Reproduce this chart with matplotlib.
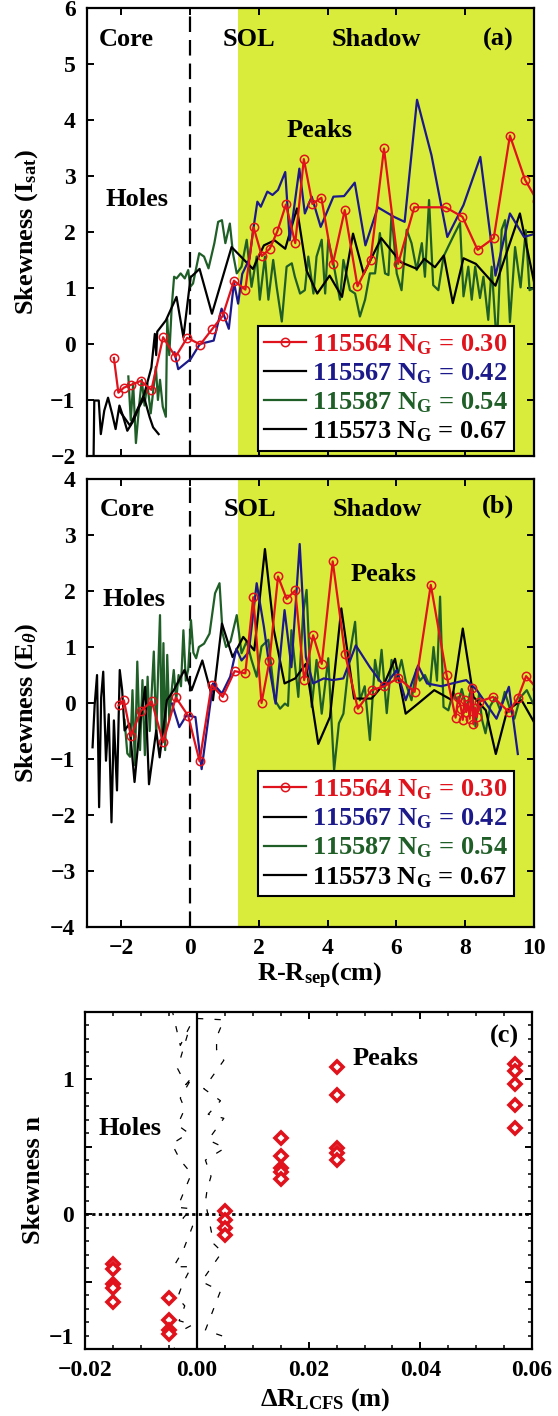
import matplotlib
matplotlib.use("Agg")
import matplotlib.pyplot as plt
from matplotlib.lines import Line2D
from matplotlib.ticker import FixedLocator, MultipleLocator, FuncFormatter

plt.rcParams["font.family"] = ["Liberation Serif", "DejaVu Serif"]
plt.rcParams["font.weight"] = "bold"
plt.rcParams["axes.labelweight"] = "bold"
plt.rcParams["mathtext.fontset"] = "custom"
plt.rcParams["mathtext.rm"] = "Liberation Serif:bold"
plt.rcParams["mathtext.it"] = "Liberation Serif:bold:italic"
plt.rcParams["mathtext.bf"] = "Liberation Serif:bold"

RED = "#e0121c"
NAVY = "#1c1a8a"
GREEN = "#1f5f27"
YELLOW = "#d9ec3c"

# ---- panel (a): skewness of I_sat ----
red_a_x = [-2.21, -2.08, -1.92, -1.71, -1.43, -1.12, -0.78, -0.42, -0.08, 0.30, 0.64, 0.95,
           1.28, 1.61, 1.85, 2.09, 2.32, 2.54, 2.79, 3.06, 3.31, 3.56, 3.82, 4.15, 4.50, 4.87,
           5.25, 5.64, 6.05, 6.52, 7.43, 7.92, 8.36, 8.83, 9.30, 9.74, 10.1]
red_a_y = [-0.25, -0.87, -0.78, -0.73, -0.66, -0.82, 0.12, -0.23, 0.11, -0.01, 0.26, 0.50,
           1.13, 0.97, 2.08, 1.57, 1.70, 2.01, 2.49, 1.80, 3.30, 2.50, 2.61, 1.42, 2.39, 1.03,
           1.50, 3.49, 1.43, 2.44, 2.44, 2.27, 1.68, 1.89, 3.72, 2.93, 2.55]

blue_a_x = [-0.45, -0.34, 0.02, 0.29, 0.69, 0.92, 1.13, 1.28, 1.40, 1.52, 1.73, 1.83, 1.96,
            2.06, 2.25, 2.40, 2.56, 2.77, 2.90, 3.18, 3.34, 3.54, 3.80, 4.17, 4.48, 4.79, 5.10,
            5.46, 5.93, 6.24, 6.60, 7.02, 7.48, 7.95, 8.44, 8.88, 9.30, 9.71, 10.04]
blue_a_y = [-0.15, -0.45, -0.27, 0.00, 0.06, 0.63, 0.27, 1.10, 0.72, 1.25, 1.52, 2.00, 2.54,
            2.45, 2.72, 2.66, 2.75, 3.07, 1.85, 3.13, 2.33, 2.63, 2.09, 2.63, 2.64, 2.88, 1.76,
            2.44, 2.27, 2.18, 4.36, 3.37, 1.91, 2.48, 3.34, 1.22, 2.33, 1.91, 1.97]

green_a_x = [-1.79, -1.72, -1.65, -1.57, -1.47, -1.40, -1.32, -1.24, -1.14, -1.06, -0.99, -0.93,
             -0.87, -0.79, -0.70, -0.66, -0.60, -0.53, -0.46, -0.39, -0.27, -0.15, -0.05, 0.01,
             0.09, 0.27, 0.41, 0.54, 0.71, 0.82, 0.93, 1.03, 1.16, 1.25, 1.36, 1.50, 1.65, 1.79,
             1.94, 2.03, 2.18, 2.28, 2.42, 2.52, 2.67, 2.81, 2.96, 3.05, 3.20, 3.34, 3.44, 3.59,
             3.68, 3.83, 3.93, 4.02, 4.17, 4.36, 4.46, 4.65, 4.80, 4.94, 5.09, 5.23, 5.38, 5.52,
             5.67, 5.77, 5.86, 6.01, 6.15, 6.30, 6.44, 6.59, 6.74, 6.83, 6.95, 7.07, 7.22, 7.37,
             7.51, 7.70, 7.85, 7.95, 8.09, 8.19, 8.29, 8.43, 8.53, 8.67, 8.77, 8.92, 9.06, 9.16,
             9.30, 9.45, 9.61, 9.76, 9.87, 10.04]
green_a_y = [-0.58, -1.36, -0.70, -1.77, -1.06, -0.64, -1.10, -0.70, -1.24, -0.80, -0.41, -1.00,
             -0.64, -1.12, -1.30, 0.45, -0.20, 0.66, 1.20, 1.17, 1.26, 1.17, 1.32, 1.02,
             1.08, 1.62, 1.56, 1.35, 1.80, 2.18, 2.21, 1.80, 2.15, 1.62, 1.26, 1.38, 1.86, 1.02,
             1.56, 0.79, 1.56, 0.79, 1.50, 1.02, 0.40, 1.38, 1.44, 1.20, 0.90, 0.96, 1.56, 0.90,
             1.56, 1.86, 0.90, 1.86, 1.44, 0.79, 1.50, 0.96, 0.90, 0.49, 0.79, 1.26, 1.26, 1.98,
             1.26, 1.23, 2.33, 1.26, 0.96, 2.04, 1.80, 1.32, 1.80, 1.20, 2.57, 1.05, 0.96, 1.56,
             1.74, 1.98, 2.16, 0.85, 1.38, 0.79, 1.38, 0.82, 1.20, 0.43, 1.38, -0.05, 2.04, 2.21,
             0.39, 1.73, 1.01, 2.03, 0.96, 1.01]

black_core_a_x = [-2.80, -2.78, -2.65, -2.59, -2.49, -2.38, -2.26, -2.16, -2.05, -1.95, -1.82,
                  -1.64, -1.48, -1.33, -1.17, -1.07, -0.91]
black_core_a_y = [-2.00, -1.01, -1.01, -1.61, -1.19, -0.96, -1.25, -1.52, -1.10, -1.28, -1.55,
                  -1.37, -1.13, -0.96, -1.31, -1.49, -1.61]
black_a_x = [-2.05, -1.74, -1.33, -1.12, -1.02, -0.98, -0.95, -0.70, -0.39, -0.19, 0.02, 0.28,
             0.64, 1.21, 1.83, 2.15, 2.46, 2.77, 3.11, 3.39, 3.70, 4.06, 4.42, 4.74, 5.05, 5.56,
             6.13, 6.60, 6.81, 7.12, 7.38, 7.64, 7.95, 8.31, 8.88, 9.59, 10.04]
black_a_y = [-1.19, -1.46, -0.90, -0.42, 0.18, -0.20, 0.22, 0.42, 0.84, 0.12, 1.19, 1.34,
             0.54, 1.73, 1.34, 1.76, 1.85, 1.70, 2.42, 1.31, 0.90, 1.22, 0.84, 1.97, 1.25, 1.89,
             1.46, 1.34, 1.52, 1.37, 1.58, 0.73, 1.53, 1.43, 1.04, 2.33, 0.99]

# ---- panel (b): skewness of E_theta ----
red_b_x = [-2.07, -1.92, -1.71, -1.43, -1.11, -0.78, -0.41, -0.05, 0.28, 0.63, 0.95, 1.30,
           1.61, 1.84, 2.08, 2.31, 2.56, 2.81, 3.06, 3.32, 3.58, 3.83, 4.15, 4.51, 4.88, 5.28,
           5.65, 6.06, 6.53, 7.00, 7.46, 7.72, 7.80, 7.88, 7.93, 7.98, 8.03, 8.08, 8.13, 8.19,
           8.24, 8.29, 8.34, 8.39, 8.81, 9.27, 9.53, 9.77, 10.1]
red_b_y = [-0.04, 0.05, -0.59, -0.14, 0.03, -0.70, 0.10, -0.23, -1.04, 0.32, 0.11, 0.57,
           0.53, 1.89, 0.00, 0.75, 2.26, 1.86, 2.01, 0.41, 1.21, 0.70, 2.53, 0.87, -0.10, 0.23,
           0.30, 0.45, 0.20, 2.11, 0.50, -0.26, 0.11, -0.10, -0.30, 0.05, -0.16, -0.01, -0.28,
           0.26, -0.38, -0.08, -0.25, 0.02, 0.11, -0.16, 0.09, 0.48, 0.25]

blue_b_x = [-0.52, -0.31, -0.10, 0.16, 0.34, 0.67, 0.93, 1.17, 1.35, 1.50, 1.71, 1.94, 2.15,
            2.33, 2.49, 2.75, 2.95, 3.19, 3.37, 3.58, 3.89, 4.15, 4.46, 4.82, 5.23, 5.65, 6.01,
            6.27, 6.63, 6.89, 7.31, 7.62, 8.03, 8.34, 8.91, 9.27, 9.53]
blue_b_y = [-0.01, -0.43, -0.22, -0.25, -1.18, 0.35, 0.17, 0.47, 0.97, 0.76, 0.91, 2.14, 1.36,
            0.56, -0.01, 1.66, 0.64, 2.84, 0.82, 0.35, 0.44, 0.41, 0.44, 1.03, 0.64, 0.29, 0.59,
            0.05, 0.67, 0.35, 0.30, 0.35, 0.41, 0.23, -0.28, 0.29, -0.91]

green_b_x = [-1.90, -1.82, -1.74, -1.67, -1.60, -1.53, -1.45, -1.38, -1.31, -1.23, -1.17, -1.11,
             -1.05, -0.98, -0.92, -0.87, -0.82, -0.77, -0.72, -0.66, -0.60, -0.54, -0.47, -0.40,
             -0.33, -0.26, -0.19, -0.12, -0.05, 0.03, 0.10, 0.18, 0.26, 0.41, 0.57, 0.73, 0.86,
             0.95, 1.05, 1.18, 1.36, 1.50, 1.65, 1.79, 1.94, 2.08, 2.28, 2.47, 2.62, 2.76, 2.85,
             2.95, 3.15, 3.29, 3.39, 3.54, 3.68, 3.83, 4.02, 4.19, 4.33, 4.46, 4.65, 4.80, 4.94,
             5.08, 5.23, 5.38, 5.48, 5.57, 5.72, 5.86, 6.00, 6.15, 6.30, 6.44, 6.58, 6.68, 6.83,
             6.98, 7.08, 7.18, 7.27, 7.37, 7.51, 7.65, 7.80, 7.90, 8.05, 8.18, 8.30, 8.40, 8.49,
             8.59, 8.73, 8.88, 9.02, 9.15, 9.30, 9.43, 9.60, 9.79, 10.0]
green_b_y = [-0.30, -0.90, -0.96, 0.23, -1.11, 0.74, -0.84, 0.41, -0.93, 0.47, -0.50, 0.20,
             0.92, -0.60, 0.65, 1.57, -0.66, 1.07, -0.84, 0.86, -0.30, 0.17, 0.59, 0.05,
             0.50, 0.30, 1.30, 0.40, 0.60, 1.48, 0.90, 0.80, 1.00, 1.06, 1.24, 1.96, 2.14,
             1.24, 1.00, 1.10, 1.57, 0.89, 1.10, 0.77, 0.47, 1.01, 1.13, 0.05, -0.10, -0.01, -0.05,
             1.30, 0.11, 1.60, 2.02, -0.07, 0.77, -0.19, 0.80, -1.20, -0.36, -0.19, 0.89, 1.45, 0.05,
             0.30, -0.66, 0.77, 0.40, 0.95, -0.18, 0.77, 0.40, 0.77, 0.30, 0.05, 0.60, 0.40, 0.50,
             0.30, 1.00, 0.40, 1.90, -0.07, -0.13, 0.20, 0.00, 0.25, -0.10, 0.30, -0.42, 0.15, -0.30,
             -0.54, -0.05, 0.10, -0.13, 0.20, -0.10, -0.28, 0.10, 0.23, -0.04]

black_b_x = [-2.83, -2.77, -2.70, -2.64, -2.58, -2.52, -2.44, -2.36, -2.28, -2.21, -2.12, -2.04,
             -1.97, -1.90, -1.76, -1.61, -1.45, -1.30, -1.19, -0.98, -0.88, -0.67, -0.47, -0.16,
             0.05, 0.36, 0.67, 0.93, 1.24, 1.55, 1.87, 2.18, 2.44, 2.75, 3.06, 3.37, 3.73, 4.07,
             4.40, 4.77, 5.28, 5.65, 5.96, 6.27, 6.63, 7.10, 7.62, 7.93, 8.24, 8.60, 8.89, 9.22,
             9.64, 10.0]
black_b_y = [-0.79, -0.04, 0.50, -1.86, 0.10, 0.56, -1.03, -0.20, -2.13, -0.31, -1.56, 0.59,
             0.23, -0.49, -0.37, -1.41, -0.37, 0.29, -1.45, -0.49, -0.97, 0.05, 0.23, 0.59,
             0.23, 0.76, 0.05, 1.42, 0.82, 1.18, 0.94, 2.75, 1.30, 0.35, 0.44, 0.70, -0.73, -0.25,
             1.69, 0.08, 0.08, 0.35, 0.79, -0.19, -0.01, 0.23, 0.05, 1.33, 0.11, -0.13, -0.91, -0.13,
             0.05, -0.34]

# ---- panel (c): skewness n vs Delta R_LCFS ----
c_x = [-0.015] * 5 + [-0.005] * 4 + [0.005] * 4 + [0.015] * 5 + [0.025] * 5 + [0.057] * 5
c_y = [-0.37, -0.41, -0.52, -0.55, -0.65,
       -0.625, -0.785, -0.86, -0.885,
       0.02, -0.045, -0.105, -0.155,
       0.565, 0.43, 0.34, 0.31, 0.26,
       1.09, 0.88, 0.49, 0.45, 0.40,
       1.11, 1.06, 0.965, 0.81, 0.64]
band_lo_x = [-0.0045, -0.0030, -0.0012, -0.0035, -0.0020, -0.0008, -0.0030, -0.0022, -0.0035,
             -0.0015, -0.0045, -0.0030, -0.0010, -0.0022, -0.0035, -0.0010, -0.0025, -0.0008,
             -0.0025, -0.0042, -0.0010, -0.0025, -0.0035, -0.0022, -0.0032, -0.0008, -0.0048,
             -0.0040]
band_lo_y = [1.52, 1.25, 1.40, 1.08, 0.96, 1.02, 0.86, 0.78, 0.66, 0.60, 0.52, 0.40, 0.30, 0.18,
             0.05, 0.04, -0.03, -0.09, -0.27, -0.39, -0.39, -0.51, -0.62, -0.68, -0.79, -0.82,
             -0.91, -1.0]
band_hi_x = [0.0000, 0.0048, 0.0035, 0.0035, 0.0048, 0.0012, 0.0042, 0.0020, 0.0048, 0.0020,
             0.0050, 0.0015, 0.0025, 0.0018, 0.0015, 0.0030, 0.0045, 0.0008, 0.0042, 0.0015,
             0.0050, 0.0050]
band_hi_y = [1.45, 1.44, 1.31, 1.22, 1.14, 0.93, 0.84, 0.74, 0.71, 0.55, 0.49, 0.40, 0.28, 0.18,
             0.09, -0.22, -0.28, -0.50, -0.57, -0.86, -0.91, -1.0]

leg_labels = [r"115564 N$_{\rm G}$ = 0.30", r"115567 N$_{\rm G}$ = 0.42",
              r"115587 N$_{\rm G}$ = 0.54", r"115573 N$_{\rm G}$ = 0.67"]
leg_line_colors = [RED, "black", GREEN, "black"]
leg_text_colors = [RED, NAVY, GREEN, "black"]

FS = 19
TICK_FS = 17


def style_axes(ax):
    ax.tick_params(direction="in", length=5, width=1.4, top=True, right=True,
                   labelsize=TICK_FS, pad=8)
    ax.tick_params(which="minor", direction="in", length=3, width=1.1, top=True, right=True)
    for sp in ax.spines.values():
        sp.set_linewidth(1.6)


def add_legend(ax, anchor):
    handles = []
    for i, c in enumerate(leg_line_colors):
        handles.append(Line2D([], [], color=c, lw=1.6, marker="o" if i == 0 else None,
                              mfc="none", mec=c, ms=6, mew=1.1))
    leg = ax.legend(handles, leg_labels, loc="lower left", bbox_to_anchor=anchor,
                    borderaxespad=0, handlelength=1.6, handletextpad=0.2, labelspacing=0.17,
                    borderpad=0.25, fontsize=FS, frameon=True, fancybox=False,
                    edgecolor="black", framealpha=1)
    leg.get_frame().set_linewidth(1.5)
    for t, c in zip(leg.get_texts(), leg_text_colors):
        t.set_color(c)


def profile_panel(ax, series, ylim, yticks, letter, letter_y, texts):
    ax.axvspan(1.4, 10.5, color=YELLOW, lw=0, zorder=0)
    ax.axvline(0, color="black", lw=1.6, ls=(0, (7, 3.6)), zorder=1)
    for xs, ys, col, mk in series:
        ax.plot(xs, ys, color=col, lw=1.6, marker=mk, mfc="none", mec=col, ms=6, mew=1.1,
                zorder=2)
    ax.set_xlim(-3, 10)
    ax.set_ylim(*ylim)
    ax.set_yticks(yticks)
    ax.set_xticks([-2, 0, 2, 4, 6, 8, 10])
    for (tx, ty, s) in texts:
        ax.text(tx, ty, s, fontsize=FS, ha="center", va="center", zorder=3)
    ax.text(0.955, letter_y, letter, transform=ax.transAxes, fontsize=FS, ha="right",
            va="center")
    style_axes(ax)


fig = plt.figure(figsize=(5.58, 14.16), dpi=100)
ax_a = fig.add_axes([0.1554, 0.678, 0.8016, 0.3164])
ax_b = fig.add_axes([0.1554, 0.3453, 0.8016, 0.3164])
ax_c = fig.add_axes([0.153, 0.0473, 0.8004, 0.2382])

profile_panel(
    ax_a,
    [(green_a_x, green_a_y, GREEN, None), (black_core_a_x, black_core_a_y, "black", None),
     (black_a_x, black_a_y, "black", None), (blue_a_x, blue_a_y, NAVY, None),
     (red_a_x, red_a_y, RED, "o")],
    (-2, 6), range(-2, 7), "(a)", 0.93,
    [(-1.84, 5.44, "Core"), (1.73, 5.44, "SOL"), (5.41, 5.44, "Shadow"),
     (-1.53, 2.58, "Holes"), (3.78, 3.81, "Peaks")])
ax_a.tick_params(labelbottom=False)
ax_a.set_ylabel(r"Skewness (I$_{\rm sat}$)", fontsize=FS)
ax_a.yaxis.set_label_coords(-0.105, 0.5)
add_legend(ax_a, (0.382, 0.012))

profile_panel(
    ax_b,
    [(green_b_x, green_b_y, GREEN, None), (black_b_x, black_b_y, "black", None),
     (blue_b_x, blue_b_y, NAVY, None), (red_b_x, red_b_y, RED, "o")],
    (-4, 4), range(-4, 5), "(b)", 0.94,
    [(-1.83, 3.46, "Core"), (1.74, 3.46, "SOL"), (5.44, 3.46, "Shadow"),
     (-1.63, 1.84, "Holes"), (5.62, 2.30, "Peaks")])
ax_b.set_ylabel(r"Skewness (E$_{\theta}$)", fontsize=FS)
ax_b.yaxis.set_label_coords(-0.105, 0.5)
ax_b.set_xlabel(r"R-R$_{\rm sep}$(cm)", fontsize=FS)
ax_b.xaxis.set_label_coords(0.52, -0.075)
add_legend(ax_b, (0.382, 0.069))

# panel (c)
ax_c.plot(band_lo_x, band_lo_y, color="black", lw=0.9, ls=(0, (5, 9)))
ax_c.plot(band_hi_x, band_hi_y, color="black", lw=0.9, ls=(0, (5, 9)))
ax_c.axvline(0, color="black", lw=1.6)
ax_c.axhline(0, color="black", lw=2.0, ls=(0, (1.2, 1.2)))
ax_c.plot(c_x, c_y, ls="none", marker="D", ms=6, mfc="white", mec=RED, mew=2.6)
ax_c.set_xlim(-0.02, 0.06)
ax_c.set_ylim(-1.0, 1.5)
ax_c.xaxis.set_major_locator(FixedLocator([-0.02, 0.0, 0.02, 0.04, 0.06]))
ax_c.xaxis.set_minor_locator(MultipleLocator(0.005))
ax_c.xaxis.set_major_formatter(FuncFormatter(lambda v, p: f"{v:.2f}".replace("-", "\u2212")))
ax_c.yaxis.set_major_locator(FixedLocator([-1.0, -0.5, 0.0, 0.5, 1.0, 1.5]))
ax_c.yaxis.set_minor_locator(MultipleLocator(0.1))
ax_c.yaxis.set_major_formatter(
    FuncFormatter(lambda v, p: (f"{int(round(v))}".replace("-", "\u2212")
                                if abs(v - round(v)) < 1e-6 else "")))
style_axes(ax_c)
ax_c.text(0.0551, 1.32, "(c)", fontsize=FS, ha="center", va="center")
ax_c.text(0.0338, 1.15, "Peaks", fontsize=FS, ha="center", va="center")
ax_c.text(-0.012, 0.635, "Holes", fontsize=FS, ha="center", va="center")
ax_c.set_ylabel("Skewness n", fontsize=FS)
ax_c.yaxis.set_label_coords(-0.09, 0.5)
ax_c.set_xlabel(r"$\Delta$R$_{\rm LCFS}$ (m)", fontsize=FS)
ax_c.xaxis.set_label_coords(0.538, -0.11)

fig.canvas.draw()
for lbl in ax_c.get_yticklabels():
    if lbl.get_text() == "\u22121":
        lbl.set_va("bottom")

fig.savefig("out.png", dpi=100)
